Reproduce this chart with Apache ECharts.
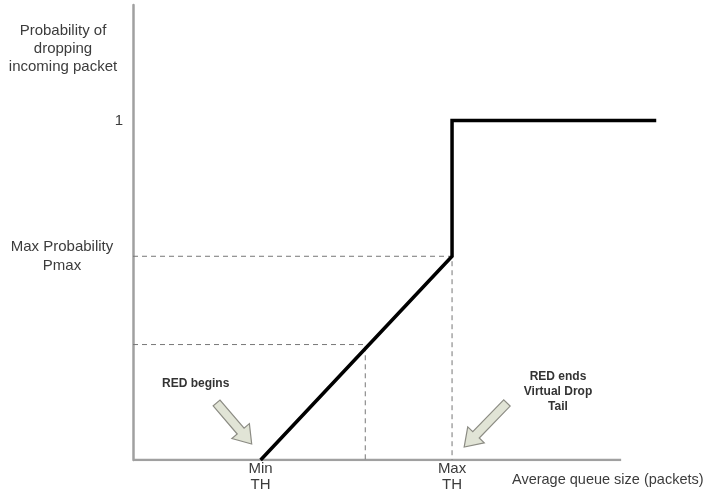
<!DOCTYPE html>
<html>
<head>
<meta charset="utf-8">
<script src="https://cdn.jsdelivr.net/npm/echarts@6/dist/echarts.min.js"></script>
<style>
  html, body { margin: 0; padding: 0; background: #fff; }
  #chart { width: 715px; height: 492px; }
</style>
</head>
<body>
<div id="chart"></div>
<script>
// RED drop profile: average queue size (arbitrary units) vs drop probability
const dropCurve = [[20, 0], [50, 0.6], [50, 1], [82, 1]];
const pmaxGuide = [[0, 0.6], [50, 0.6], [50, 0]];
const midGuide = [[0, 0.34], [36.4, 0.34], [36.4, 0]];
const xAxisLine = [[0, 0], [76.5, 0]];
const xTicks = [20, 50];
const xTickLabels = ['Min\nTH', 'Max\nTH'];
const yTicks = [0.6, 1];
const yTickLabels = ['Max Probability\nPmax', '1'];
// callout arrows: [tailX, tailY, tipX, tipY]
const arrows = [
  [13.1, 0.168, 18.6, 0.047],
  [58.6, 0.168, 51.9, 0.038]
];

const chart = echarts.init(document.getElementById('chart'));
const textColor = '#3c3c3c';
const font = '"Liberation Sans", Arial, sans-serif';

// block arrow drawn in data coords
function renderArrow(params, api) {
  const p0 = api.coord([api.value(0), api.value(1)]);
  const p1 = api.coord([api.value(2), api.value(3)]);
  const dx = p1[0] - p0[0], dy = p1[1] - p0[1];
  const len = Math.sqrt(dx * dx + dy * dy);
  const ux = dx / len, uy = dy / len;
  const nx = -uy, ny = ux;
  const shaft = 4.5, head = 11.5, headLen = 17;
  const bx = p1[0] - ux * headLen, by = p1[1] - uy * headLen;
  const pts = [
    [p0[0] + nx * shaft, p0[1] + ny * shaft],
    [bx + nx * shaft, by + ny * shaft],
    [bx + nx * head, by + ny * head],
    [p1[0], p1[1]],
    [bx - nx * head, by - ny * head],
    [bx - nx * shaft, by - ny * shaft],
    [p0[0] - nx * shaft, p0[1] - ny * shaft]
  ];
  return {
    type: 'polygon',
    shape: { points: pts },
    style: { fill: '#e1e4d6', stroke: '#8c8c84', lineWidth: 1.2 }
  };
}

const option = {
  animation: false,
  grid: { left: 133, right: 46, top: 5, bottom: 32, outerBoundsMode: 'none' },
  xAxis: {
    type: 'value',
    min: 0,
    max: 84,
    axisLine: { show: false },
    axisTick: { show: false },
    splitLine: { show: false },
    axisLabel: {
      customValues: xTicks,
      formatter: v => xTickLabels[xTicks.indexOf(v)],
      color: textColor,
      fontFamily: font,
      fontSize: 15,
      lineHeight: 16,
      margin: 1
    }
  },
  yAxis: {
    type: 'value',
    min: 0,
    max: 1.34,
    axisLine: { show: true, lineStyle: { color: '#a0a0a0', width: 2.5 } },
    axisTick: { show: false },
    splitLine: { show: false },
    axisLabel: {
      customValues: yTicks,
      formatter: v => {
        const t = yTickLabels[yTicks.indexOf(v)];
        return v === 1 ? '{one|' + t + '}' : '{pm|' + t + '}';
      },
      align: 'right',
      margin: 10,
      rich: {
        one: { color: textColor, fontFamily: font, fontSize: 15 },
        pm: { color: textColor, fontFamily: font, fontSize: 15, width: 122, align: 'center', lineHeight: 19 }
      }
    }
  },
  graphic: [
    {
      type: 'text', x: 63, y: 22,
      style: {
        text: 'Probability of\ndropping\nincoming packet',
        fill: textColor, font: '15px ' + font, align: 'center', lineHeight: 18
      }
    },
    {
      type: 'text', x: 512, y: 472,
      style: { text: 'Average queue size (packets)', fill: textColor, font: '14.5px ' + font }
    },
    {
      type: 'text', x: 162, y: 378,
      style: { text: 'RED begins', fill: '#333', font: 'bold 12px ' + font }
    },
    {
      type: 'text', x: 558, y: 369,
      style: {
        text: 'RED ends\nVirtual Drop\nTail',
        fill: '#333', font: 'bold 12px ' + font, align: 'center', lineHeight: 15
      }
    }
  ],
  series: [
    {
      type: 'line', data: xAxisLine, symbol: 'none', z: 1, silent: true,
      lineStyle: { color: '#a0a0a0', width: 2.5 }
    },
    {
      type: 'line', data: pmaxGuide, symbol: 'none', z: 1,
      lineStyle: { color: '#777', width: 1, type: [5, 4] }
    },
    {
      type: 'line', data: midGuide, symbol: 'none', z: 1,
      lineStyle: { color: '#777', width: 1, type: [5, 4] }
    },
    {
      type: 'line', data: dropCurve, symbol: 'none', z: 3,
      lineStyle: { color: '#000', width: 3.5, join: 'miter' }
    },
    {
      type: 'custom', data: arrows, renderItem: renderArrow, z: 2
    }
  ]
};

chart.setOption(option);
</script>
</body>
</html>
